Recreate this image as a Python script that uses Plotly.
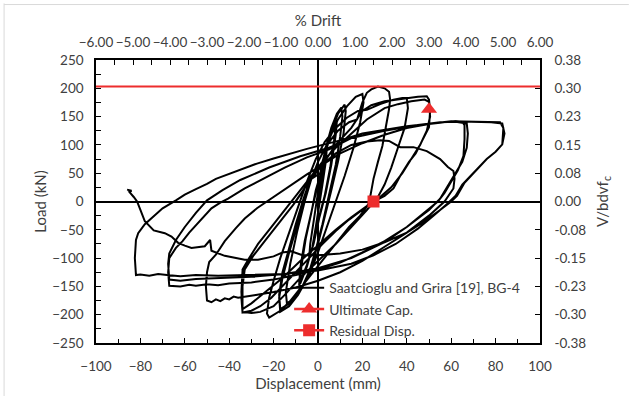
import plotly.graph_objects as go

# ---------------- data ----------------
# hysteresis (displacement mm, load kN), traced cycle by cycle
cycle_1 = [(0,0),(1.5,45),(3,80),(4,95),(3.5,70),(2,30),(0.5,-10),(-1,-45),(-2.5,-80),(-4,-100),(-3.5,-75),(-2,-35),(-0.5,5),(0,15)]
cycle_2 = [(1.5,55),(3.5,95),(6,125),(8,140),(7.5,115),(5.5,60),(3,10),(0,-35),(-2.5,-80),(-5,-115),(-8,-145),(-7.5,-115),(-5.5,-65),(-3,-20),(-1,20)]
cycle_2b = [(2,60),(4,95),(6.5,128),(8.5,142),(8,118),(6,65),(3.5,15),(0.5,-30),(-2,-75),(-5,-112),(-8.5,-148),(-8,-118),(-6,-70),(-3.5,-25),(-1,15)]
cycle_3 = [(1,45),(3,85),(6,125),(9,155),(12,171),(12.5,160),(11.5,120),(9,70),(6,20),(3,-30),(0,-75),(-3,-115),(-7,-150),(-11,-172),(-14,-180),(-14.5,-160),(-12.5,-110),(-9.5,-55),(-6,0),(-3,40)]
cycle_3b = [(1,50),(3.5,95),(6,130),(8.5,155),(10.5,166),(11,150),(10,115),(8,65),(5,10),(2,-40),(-1,-85),(-4,-125),(-8,-158),(-12,-178),(-17,-190),(-17.5,-165),(-16,-125),(-13,-80),(-10,-40),(-6.5,5),(-3,45)]
cycle_3c = [(2,70),(5,110),(9,145),(13,168),(17,185),(20,190),(20.5,175),(19,140),(16,95),(12,45),(8,0),(4,-45),(0,-90),(-4,-130),(-9,-165),(-13,-185),(-17,-195),(-17.5,-170),(-16,-135),(-13,-90),(-10,-50),(-7,-10),(-4,30)]
cycle_4 = [(0,70),(4,100),(9,125),(14,140),(17.6,145),(20,175),(22,192),(24,198),(27,203),(30,200),(32,194),(32.5,180),(32,163),(30.5,130),(29,98),(27,70),(25,40),(23,-3),(19,-25),(14,-45),(9,-70),(4,-95),(-2,-125),(-8,-155),(-13,-178),(-17,-193),(-20,-200),(-22,-205),(-23,-198),(-22,-170),(-20,-140),(-17,-100),(-13,-55),(-9,-10),(-5,35),(-1,75),(3,105),(8,130),(13,148),(18,160)]
cycle_4b = [(22,162),(28,172),(34,180),(38,183),(40,183),(40.5,165),(39,130),(36,95),(33,60),(30,30),(27,8),(22,-15),(15,-45),(8,-75),(0,-105),(-8,-135),(-15,-165),(-20,-185),(-26,-195),(-30,-197),(-34,-195),(-34.5,-160),(-34,-122),(-31,-105),(-27,-85),(-22,-60),(-16,-30),(-10,0),(-4,35),(2,65)]
cycle_5 = [(8,100),(15,130),(20,160),(24,170),(30,177),(35,180),(40,183),(45,185),(49,186),(50,180),(50.5,160),(50,131),(47,108),(44,85),(41,70),(37,45),(34,23),(30,10),(25,0),(20,-15),(14,-32),(8,-52),(2,-75),(-4,-100),(-10,-125),(-16,-150),(-21,-170),(-26,-185),(-30,-193),(-34,-196),(-34.5,-170),(-34,-140),(-34,-120),(-31,-100),(-27,-75),(-22,-50),(-16,-20),(-10,10),(-4,40),(2,70)]
cycle_6 = [(8,95),(15,120),(22,145),(30,165),(36,172),(42,177),(48,180),(50,176),(50.5,150),(49,125),(46,100),(42,75),(38,50),(33,25),(28,8),(22,-8),(15,-28),(8,-50),(0,-78),(-8,-105),(-16,-135),(-24,-160),(-30,-180),(-34,-190),(-34,-150),(-33,-120),(-29,-95),(-24,-70),(-18,-40),(-11,-5),(-5,30),(1,62)]
cycle_7 = [(8,85),(15,100),(22,106),(28,108),(32,107),(37,96),(43,96),(49,89),(55,75),(58.5,61),(61,54),(61.5,40),(61,23),(57,0),(50,-25),(40,-55),(30,-80),(20,-105),(10,-125),(0,-140),(-10,-152),(-20,-160),(-28,-165),(-34,-168),(-36,-170),(-38,-168),(-40,-173),(-42,-171),(-44,-176),(-46,-173),(-48,-178),(-50,-175),(-50.5,-150),(-50,-125),(-49,-107),(-46,-94),(-42,-70),(-37,-47),(-33,-30),(-27.5,-12),(-20,8),(-12,30),(-5,48),(0,60)]
cycle_8 = [(10,85),(20,103),(30,118),(40,130),(50,137),(57,140),(62,142),(65,141),(66,135),(66,110),(65.5,80),(63,55),(60,35),(57,15),(54,0),(48,-20),(40,-45),(30,-70),(20,-90),(10,-108),(0,-120),(-10,-130),(-20,-138),(-30,-143),(-40,-145),(-45,-148),(-50,-146),(-55,-149),(-58,-147),(-62,-150),(-67,-149),(-67.5,-125),(-67,-100),(-64,-82),(-61,-70),(-58,-55),(-55,-42),(-51,-25),(-48,-12),(-44,-2),(-40.5,5),(-33,23),(-25,40),(-15,60),(-5,78),(5,92)]
cycle_9 = [(15,112),(30,125),(45,135),(55,140),(62,141),(67,138),(67.5,120),(67,95),(65,70),(62,50),(58,25),(55,5),(50,-15),(40,-45),(30,-72),(15,-100),(0,-118),(-15,-128),(-30,-133),(-45,-135),(-55,-137),(-62,-140),(-67,-138),(-67.5,-110),(-67,-92),(-64,-68),(-60,-45),(-55,-20),(-50,2),(-43,20),(-35,38),(-22,60),(-8,80),(5,95)]
cycle_10 = [(15,112),(30,125),(45,135),(60,142),(70,141),(78,140),(83,138),(84,120),(83,101),(80,88),(76,75),(70,50),(65,30),(62,10),(58,-5),(52,-25),(45,-48),(35,-75),(25,-95),(15,-110),(0,-122),(-15,-128),(-30,-130),(-45,-131),(-55,-130),(-62,-132),(-68,-130),(-72,-128),(-76,-131),(-80,-129),(-82,-130),(-82.5,-100),(-82,-68),(-81,-56),(-78,-40),(-73,-22),(-70,-12),(-64,2),(-60,12),(-55,22),(-50,31),(-46,40),(-40,49),(-34,58),(-27.5,67),(-20,76),(-12.6,85),(-5,93),(2,100),(10,108)]
cycle_11 = [(20,120),(40,133),(60,142),(75,141),(82,140),(83.5,130),(83,101),(80,88),(76,75),(70,50),(66,33),(62.6,10),(60,0),(55,-15),(48,-35),(40,-55),(30,-72),(20,-85),(10,-92),(0,-95),(-7,-95),(-12,-88),(-16,-90),(-20,-97),(-27,-103),(-33,-103),(-38,-99),(-42,-96),(-48,-87),(-48.6,-68),(-51,-79),(-54,-80),(-57,-82),(-60,-78),(-63,-73),(-66,-62),(-69,-56),(-74,-51),(-76,-42),(-78,-35),(-80,-15),(-81.5,0),(-83,8),(-85,17),(-84,19),(-86,21)]

ultimate_disp = [50]
ultimate_load = [163]
residual_disp = [25]
residual_load = [0]
capacity_line_load = 203
x_range = [-100, 100]
y_range = [-250, 250]
drift_range = [-6, 6]
ratio_ticks = [-0.375, -0.3, -0.225, -0.15, -0.075, 0.0, 0.075, 0.15, 0.225, 0.3, 0.375]
ratio_labels = ["-0.38", "-0.30", "-0.23", "-0.15", "-0.08", "0.00", "0.08", "0.15", "0.23", "0.30", "0.38"]

cycles = [cycle_1, cycle_2, cycle_2b, cycle_3, cycle_3b, cycle_3c, cycle_4, cycle_4b, cycle_5,
          cycle_6, cycle_7, cycle_8, cycle_9, cycle_10, cycle_11]
hyst_disp = [p[0] for c in cycles for p in c]
hyst_load = [p[1] for c in cycles for p in c]

RED = "rgb(237,45,45)"
TXT = "#404040"
FONT = "Lato"

fig = go.Figure()
fig.add_trace(go.Scatter(x=hyst_disp, y=hyst_load, mode="lines",
                         line=dict(color="black", width=2),
                         name="Saatcioglu and Grira [19], BG-4"))
fig.add_trace(go.Scatter(x=x_range, y=[capacity_line_load]*2, mode="lines",
                         line=dict(color=RED, width=2), showlegend=False))
fig.add_trace(go.Scatter(x=ultimate_disp, y=ultimate_load, mode="lines+markers",
                         line=dict(color=RED, width=2.5),
                         marker=dict(symbol="triangle-up", size=14, color=RED),
                         name="Ultimate Cap."))
fig.add_trace(go.Scatter(x=residual_disp, y=residual_load, mode="lines+markers",
                         line=dict(color=RED, width=2.5),
                         marker=dict(symbol="square", size=12, color=RED),
                         name="Residual Disp."))
fig.add_trace(go.Scatter(x=[None], y=[None], xaxis="x2", yaxis="y2",
                         showlegend=False, hoverinfo="skip"))

def axis_common():
    return dict(showgrid=False, showline=True, linecolor="black", linewidth=1.5,
                ticks="inside", tickcolor="black", ticklen=5,
                tickfont=dict(family=FONT, size=13.5, color=TXT),
                title_font=dict(family=FONT, size=15, color=TXT))

fig.update_layout(
    width=631, height=396,
    margin=dict(l=96, r=91, t=60, b=50),
    paper_bgcolor="white", plot_bgcolor="white",
    font=dict(family=FONT, color=TXT),
    xaxis=dict(range=x_range, dtick=20, tick0=0, ticklabelstandoff=10,
               zeroline=True, zerolinecolor="black", zerolinewidth=2,
               minor=dict(dtick=10, ticks="inside", ticklen=4, tickcolor="black"),
               title=dict(text="Displacement (mm)", standoff=0), **axis_common()),
    xaxis2=dict(range=drift_range, dtick=1, tick0=0, tickformat=".2f", ticklabelstandoff=6,
                overlaying="x", side="top", anchor="y", zeroline=False,
                minor=dict(dtick=0.5, ticks="inside", ticklen=5, tickcolor="black"),
                title=dict(text="% Drift", standoff=4), **axis_common()),
    yaxis=dict(range=y_range, dtick=50, tick0=0, ticklabelstandoff=8,
               zeroline=True, zerolinecolor="black", zerolinewidth=2,
               minor=dict(dtick=25, ticks="inside", ticklen=5, tickcolor="black"),
               title=dict(text="Load (kN)", standoff=2), **axis_common()),
    yaxis2=dict(range=[ratio_ticks[0], ratio_ticks[-1]], tickvals=ratio_ticks, ticktext=ratio_labels,
                ticklabelstandoff=10,
                overlaying="y", side="right", anchor="x", zeroline=False,
                title=dict(text="V/bdvf<sub>c</sub>", standoff=12), **axis_common()),
    legend=dict(x=0.435, y=0.25, xanchor="left", yanchor="top",
                bgcolor="rgba(255,255,255,0)", tracegroupgap=0,
                font=dict(family=FONT, size=14, color=TXT)),
    shapes=[
        dict(type="line", xref="paper", yref="paper", x0=-0.207, x1=-0.207, y0=-0.2, y1=1.2,
             line=dict(color="#d9d9d9", width=1)),
        dict(type="line", xref="paper", yref="paper", x0=-0.207, x1=1.2, y0=1.196, y1=1.196,
             line=dict(color="#d9d9d9", width=1)),
    ],
)

fig.write_html("out.html")
